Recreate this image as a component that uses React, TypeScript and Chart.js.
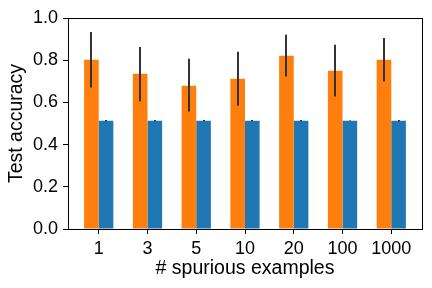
import React, { useEffect, useRef } from "react";
import { Chart, registerables } from "chart.js";

Chart.register(...registerables);

const categories = ["1", "3", "5", "10", "20", "100", "1000"];
const orangeValues = [0.802, 0.736, 0.679, 0.712, 0.821, 0.750, 0.802];
const orangeLow = [0.671, 0.605, 0.557, 0.584, 0.723, 0.628, 0.699];
const orangeHigh = [0.934, 0.862, 0.807, 0.840, 0.921, 0.873, 0.905];
const blueValues = [0.513, 0.513, 0.513, 0.513, 0.513, 0.513, 0.513];
const blueLow = [0.511, 0.511, 0.511, 0.511, 0.511, 0.512, 0.511];
const blueHigh = [0.516, 0.516, 0.516, 0.516, 0.516, 0.514, 0.516];
const yTicks = [0, 0.2, 0.4, 0.6, 0.8, 1.0];

const FONT = "'Liberation Sans', Arial, Helvetica, sans-serif";

const errorBarPlugin = {
  id: "errorBars",
  afterDatasetsDraw(chart: any) {
    const ctx = chart.ctx;
    const yScale = chart.scales.y;
    const ranges = [
      [orangeLow, orangeHigh],
      [blueLow, blueHigh],
    ];
    ctx.save();
    ctx.strokeStyle = "#333333";
    ctx.lineWidth = 2;
    chart.data.datasets.forEach((_: any, di: number) => {
      const meta = chart.getDatasetMeta(di);
      meta.data.forEach((bar: any, i: number) => {
        const lo = yScale.getPixelForValue(ranges[di][0][i]);
        const hi = yScale.getPixelForValue(ranges[di][1][i]);
        ctx.beginPath();
        ctx.moveTo(Math.round(bar.x), lo);
        ctx.lineTo(Math.round(bar.x), hi);
        ctx.stroke();
      });
    });
    ctx.restore();
  },
};

const framePlugin = {
  id: "frame",
  afterDraw(chart: any) {
    const { ctx, chartArea } = chart;
    ctx.save();
    ctx.strokeStyle = "#000000";
    ctx.lineWidth = 1;
    ctx.strokeRect(
      Math.round(chartArea.left) + 0.5,
      Math.round(chartArea.top) + 0.5,
      Math.round(chartArea.right - chartArea.left),
      Math.round(chartArea.bottom - chartArea.top)
    );
    ctx.restore();
  },
};

export default function App() {
  const ref = useRef<HTMLCanvasElement>(null);

  useEffect(() => {
    if (!ref.current) return;
    const chart = new Chart(ref.current, {
      type: "bar",
      data: {
        datasets: [
          {
            label: "orange",
            data: orangeValues.map((v, i) => ({ x: i, y: v })),
            backgroundColor: "#ff7f0e",
            borderWidth: 0,
          },
          {
            label: "blue",
            data: blueValues.map((v, i) => ({ x: i, y: v })),
            backgroundColor: "#1f77b4",
            borderWidth: 0,
          },
        ],
      },
      options: {
        responsive: false,
        animation: false,
        devicePixelRatio: 1,
        categoryPercentage: 0.6,
        barPercentage: 1.0,
        layout: { padding: { top: 18, right: 10, left: 0, bottom: 0 } },
        plugins: {
          legend: { display: false },
          tooltip: { enabled: false },
        },
        scales: {
          x: {
            type: "linear",
            min: -0.63,
            max: 6.63,
            offset: false,
            afterBuildTicks: (scale: any) => {
              scale.ticks = categories.map((_, i) => ({ value: i }));
            },
            afterFit: (scale: any) => {
              scale.height = 59;
            },
            ticks: {
              autoSkip: false,
              maxRotation: 0,
              padding: 4,
              color: "#000000",
              font: { family: FONT, size: 18 },
              callback: (v: any) => categories[v] ?? "",
            },
            grid: {
              display: true,
              offset: false,
              drawOnChartArea: false,
              drawTicks: true,
              tickLength: 5,
              tickColor: "#000000",
              tickWidth: 1,
            },
            border: { display: true, color: "#000000", width: 1 },
            title: {
              display: true,
              text: "# spurious examples",
              color: "#000000",
              font: { family: FONT, size: 19.5 },
              padding: { top: 0, bottom: 8 },
            },
          },
          y: {
            min: 0,
            max: 1,
            afterBuildTicks: (scale: any) => {
              scale.ticks = yTicks.map((v) => ({ value: v }));
            },
            afterFit: (scale: any) => {
              scale.width = 68;
            },
            ticks: {
              padding: 5,
              color: "#000000",
              font: { family: FONT, size: 18 },
              callback: (v: any) => Number(v).toFixed(1),
            },
            grid: {
              display: true,
              offset: false,
              drawOnChartArea: false,
              drawTicks: true,
              tickLength: 5,
              tickColor: "#000000",
              tickWidth: 1,
            },
            border: { display: true, color: "#000000", width: 1 },
            title: {
              display: true,
              text: "Test accuracy",
              color: "#000000",
              font: { family: FONT, size: 19.5 },
              padding: { top: 5, bottom: 0 },
            },
          },
        },
      },
      plugins: [errorBarPlugin, framePlugin],
    } as any);
    return () => chart.destroy();
  }, []);

  return (
    <div style={{ position: "absolute", left: 0, top: 0, width: 432, height: 288, background: "#ffffff" }}>
      <canvas ref={ref} width={432} height={288} style={{ display: "block", width: 432, height: 288 }} />
    </div>
  );
}
